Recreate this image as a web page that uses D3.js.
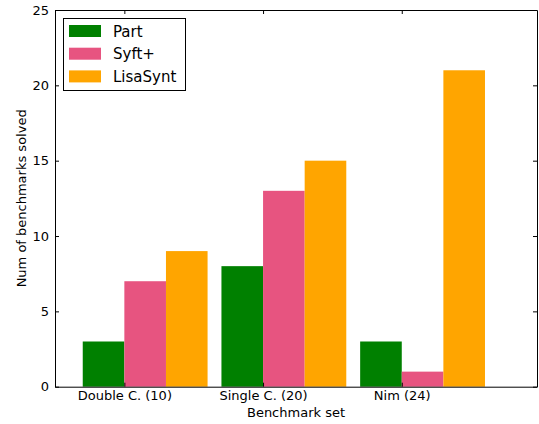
<!DOCTYPE html>
<html><head><meta charset="utf-8">
<script src="https://cdn.jsdelivr.net/npm/d3@7"></script>
<style>body{margin:0;background:#fff}svg{display:block;font-family:"DejaVu Sans",sans-serif}</style>
</head><body><svg id="c" width="539" height="424"></svg>
<script>
const categories = ["Double C. (10)", "Single C. (20)", "Nim (24)"];
const seriesNames = ["Part", "Syft+", "LisaSynt"];
const partValues = [3, 8, 3];
const syftValues = [7, 13, 1];
const lisaValues = [9, 15, 21];
const yTicks = [0, 5, 10, 15, 20, 25];
const colors = ["#008000", "#e75480", "#ffa500"];
const series = [partValues, syftValues, lisaValues];

const svg = d3.select("#c");
const L = 55, R = 537, T = 10, B = 386.7;
const barW = 0.3;
const x = d3.scaleLinear().domain([-0.2, 3.275]).range([L, R]);
const y = d3.scaleLinear().domain([0, 25]).range([B, T]);

const g = svg.append("g");
series.forEach((vals, s) => {
  g.selectAll(null).data(vals).enter().append("rect")
    .attr("x", (d, i) => x(i + s * barW))
    .attr("width", x(barW) - x(0))
    .attr("y", d => y(d))
    .attr("height", d => y(0) - y(d))
    .attr("fill", colors[s]);
});

const tickPos = categories.map((c, i) => i + barW);
const ax = svg.append("g").attr("transform", `translate(0,${B})`)
  .call(d3.axisBottom(x).tickValues(tickPos).tickFormat((d,i)=>categories[i]).tickSizeInner(-4).tickSizeOuter(0).tickPadding(4));
const axT = svg.append("g").attr("transform", `translate(0,${T})`)
  .call(d3.axisTop(x).tickValues(tickPos).tickFormat("").tickSizeInner(-4).tickSizeOuter(0));
const ayL = svg.append("g").attr("transform", `translate(${L},0)`)
  .call(d3.axisLeft(y).tickValues(yTicks).tickSizeInner(-4).tickSizeOuter(0).tickPadding(6));
const ayR = svg.append("g").attr("transform", `translate(${R},0)`)
  .call(d3.axisRight(y).tickValues(yTicks).tickFormat("").tickSizeInner(-4).tickSizeOuter(0));
[ax, axT, ayL, ayR].forEach(a => {
  a.selectAll(".domain").attr("stroke", "#000").attr("stroke-width", 1);
  a.selectAll(".tick line").attr("stroke", "#000");
  a.selectAll("text").attr("font-size", 13).attr("fill", "#000").attr("font-family", "DejaVu Sans");
});

svg.append("text").attr("x", (L + R) / 2).attr("y", 417).attr("text-anchor", "middle")
  .attr("font-size", 13).text("Benchmark set");
svg.append("text").attr("transform", `translate(26,${(T + B) / 2}) rotate(-90)`)
  .attr("text-anchor", "middle").attr("font-size", 13).text("Num of benchmarks solved");

const lg = svg.append("g");
lg.append("rect").attr("x", 63.5).attr("y", 18.5).attr("width", 122).attr("height", 72)
  .attr("fill", "#fff").attr("stroke", "#000").attr("stroke-width", 1);
seriesNames.forEach((n, i) => {
  const cy = 31 + i * 22.7;
  lg.append("rect").attr("x", 69).attr("y", cy - 6).attr("width", 32).attr("height", 12).attr("fill", colors[i]);
  lg.append("text").attr("x", 113).attr("y", cy + 5.5).attr("font-size", 15).text(n);
});
</script></body></html>
